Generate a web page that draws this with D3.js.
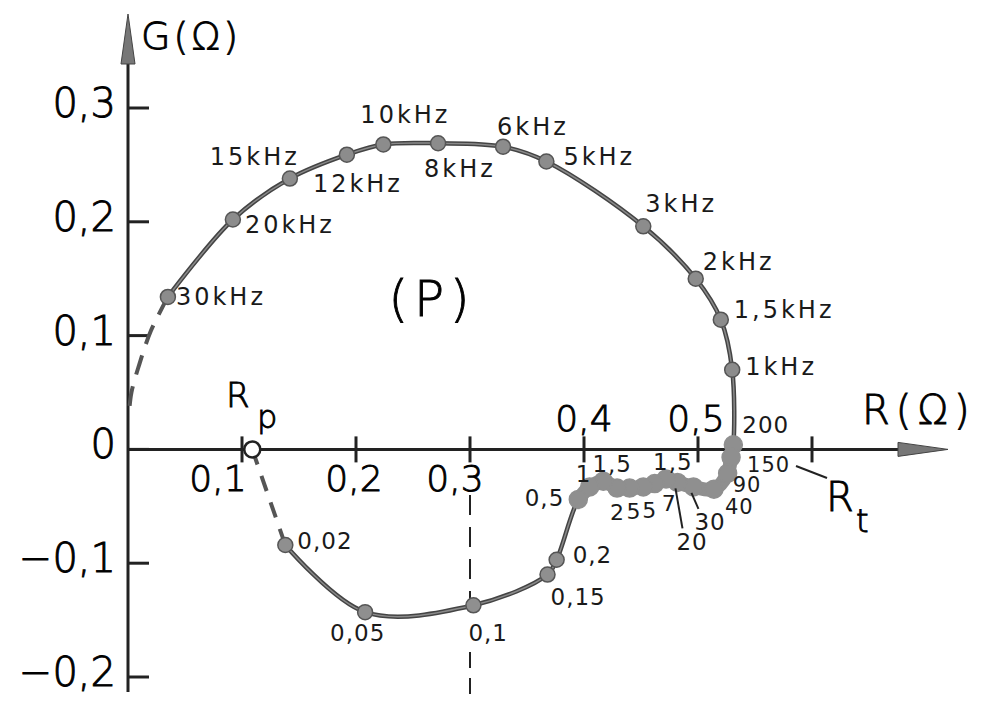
<!DOCTYPE html>
<html>
<head>
<meta charset="utf-8">
<script src="https://cdn.jsdelivr.net/npm/d3@7"></script>
<style>
  body { margin: 0; background: #fff; }
  text { font-family: "DejaVu Sans", sans-serif; fill: #1a1a1a; }
  .big { font-weight: 200; fill: #000; stroke: #000; stroke-width: 0.9px; }
</style>
</head>
<body>
<svg id="chart" width="991" height="710"></svg>
<script>
// high frequency branch (upper loop), kHz
var upperFreq = ["30kHz", "20kHz", "15kHz", "12kHz", "10kHz", "8kHz", "6kHz", "5kHz", "3kHz", "2kHz", "1,5kHz", "1kHz"];
var upperR = [0.035, 0.092, 0.142, 0.192, 0.224, 0.272, 0.329, 0.367, 0.452, 0.498, 0.520, 0.530];
var upperG = [0.134, 0.202, 0.238, 0.259, 0.268, 0.269, 0.266, 0.253, 0.196, 0.150, 0.114, 0.070];

// low frequency branch (lower loop), Hz
var lowerFreq = ["200", "150", "90", "40", "30", "20", "1,5", "7", "5", "5", "2", "1,5", "1", "0,5", "0,2", "0,15", "0,1", "0,05", "0,02"];
var lowerR = [0.531, 0.529, 0.526, 0.514, 0.496, 0.482, 0.472, 0.462, 0.452, 0.440, 0.429, 0.417, 0.405, 0.395, 0.376, 0.368, 0.303, 0.208, 0.138];
var lowerG = [0.004, -0.007, -0.021, -0.035, -0.033, -0.029, -0.026, -0.030, -0.033, -0.034, -0.034, -0.028, -0.033, -0.044, -0.097, -0.110, -0.137, -0.143, -0.084];

// extrapolated dashed parts
var hfR = [0.035, 0.020, 0.010, 0.003, 0.001];
var hfG = [0.134, 0.104, 0.075, 0.050, 0.033];
var Rp = 0.109;

var xTicks = [0.1, 0.2, 0.3, 0.4, 0.5, 0.6];
var xTickLabels = ["0,1", "0,2", "0,3", "0,4", "0,5", ""];
var yTicks = [0.3, 0.2, 0.1, 0, -0.1, -0.2];
var yTickLabels = ["0,3", "0,2", "0,1", "0", "\u22120,1", "\u22120,2"];

var svg = d3.select("#chart");
var x = d3.scaleLinear().domain([0, 0.7]).range([128, 926]);
var y = d3.scaleLinear().domain([-0.2, 0.3]).range([677, 108]);

// label placement (offset from the point, anchor, size)
var upperOff = [[8,0,"start"],[12,5,"start"],[10,-22,"end"],[-34,29,"start"],[-23,-29,"start"],[-14,26,"start"],
  [-6,-20,"start"],[17,-4,"start"],[2,-22,"start"],[7,-17,"start"],[13,-10,"start"],[13,-3,"start"]];
var lowerOff = [[9,-20,"start",23],[16,7,"start",21],[5,11,"start",21],[11,17,"start",21],[1,35,"start",23],[-1,60,"start",23],
  [-13,-17,"start",23],[7,19,"start",22],[-1,23,"start",22],[-3,23,"start",22],[-7,24,"start",22],[-11,-17,"start",23],
  [-14,-13,"start",23],[-14,-1,"end",23],[16,-5,"start",23],[3,22,"start",23],[-5,28,"start",23],[-35,21,"start",23],[12,-4,"start",23]];

// axes
svg.append("line").attr("x1", x(0)).attr("x2", 905).attr("y1", y(0)).attr("y2", y(0))
  .attr("stroke", "#222").attr("stroke-width", 3);
svg.append("path").attr("d", "M898," + (y(0)-7) + "L948," + y(0) + "L898," + (y(0)+7) + "Z")
  .attr("fill", "#777").attr("stroke", "#444").attr("stroke-width", 1);
svg.append("line").attr("x1", x(0)).attr("x2", x(0)).attr("y1", 692).attr("y2", 55)
  .attr("stroke", "#222").attr("stroke-width", 3);
svg.append("path").attr("d", "M" + (x(0)-7) + ",64L" + x(0) + ",14L" + (x(0)+7) + ",64Z")
  .attr("fill", "#777").attr("stroke", "#444").attr("stroke-width", 1);

svg.selectAll(".xt").data(xTicks).enter().append("line")
  .attr("x1", d => x(d)).attr("x2", d => x(d)).attr("y1", y(0) - 13).attr("y2", y(0) + 13)
  .attr("stroke", "#222").attr("stroke-width", 3);
var xLabDx = [-24, -2, -15, 0, -2, 0];
svg.selectAll(".xl").data(xTicks).enter().append("text").attr("class", "big")
  .attr("x", (d, i) => x(d) + xLabDx[i])
  .attr("y", d => d >= 0.35 ? y(0) - 18 : y(0) + 42)
  .attr("text-anchor", "middle").attr("font-size", 36)
  .text((d, i) => xTickLabels[i]);

svg.selectAll(".yt").data(yTicks).enter().append("line")
  .attr("x1", x(0)).attr("x2", x(0) + 21).attr("y1", d => y(d)).attr("y2", d => y(d))
  .attr("stroke", "#222").attr("stroke-width", 3);
svg.selectAll(".yl").data(yTicks).enter().append("text").attr("class", "big")
  .attr("x", 116).attr("y", d => y(d) + 9)
  .attr("text-anchor", "end").attr("font-size", 40)
  .text((d, i) => yTickLabels[i]);

svg.append("text").attr("class", "big").attr("x", 141).attr("y", 49).attr("font-size", 38).attr("letter-spacing", 3).text("G(\u03A9)");
svg.append("text").attr("class", "big").attr("x", 862).attr("y", 424).attr("font-size", 40).attr("letter-spacing", 6).text("R(\u03A9)");
svg.append("text").attr("class", "big").attr("x", 226).attr("y", 407).attr("font-size", 34).text("R");
svg.append("text").attr("class", "big").attr("x", 257).attr("y", 428).attr("font-size", 32).text("p");
svg.append("text").attr("class", "big").attr("x", 826).attr("y", 511).attr("font-size", 40).text("R");
svg.append("text").attr("class", "big").attr("x", 856).attr("y", 532).attr("font-size", 32).text("t");
svg.append("text").attr("class", "big").attr("x", 432).attr("y", 316).attr("text-anchor", "middle")
  .attr("font-size", 50).attr("letter-spacing", 6).text("(P)");
svg.append("line").attr("x1", 796).attr("y1", 466).attr("x2", 827).attr("y2", 478)
  .attr("stroke", "#222").attr("stroke-width", 2);

// dashed guide at R = 0.3
svg.append("line").attr("x1", x(0.3)).attr("x2", x(0.3)).attr("y1", y(-0.04)).attr("y2", y(-0.132))
  .attr("stroke", "#222").attr("stroke-width", 2).attr("stroke-dasharray", "20,12");
svg.append("line").attr("x1", x(0.3)).attr("x2", x(0.3)).attr("y1", y(-0.178)).attr("y2", y(-0.222))
  .attr("stroke", "#222").attr("stroke-width", 2).attr("stroke-dasharray", "16,10");

// curves
var upperPts = upperR.map((r, i) => [x(r), y(upperG[i])]);
var lowerPts = lowerR.map((r, i) => [x(r), y(lowerG[i])]);
var allPts = upperPts.concat(lowerPts);
var line = d3.line().curve(d3.curveCatmullRom.alpha(0.5));

svg.append("path").attr("d", line(hfR.map((r, i) => [x(r), y(hfG[i])])))
  .attr("fill", "none").attr("stroke", "#555").attr("stroke-width", 4).attr("stroke-dasharray", "20,12");
svg.append("path").attr("d", d3.line()([[x(Rp), y(0)], lowerPts[lowerPts.length - 1]]))
  .attr("fill", "none").attr("stroke", "#555").attr("stroke-width", 4).attr("stroke-dasharray", "16,12");

svg.append("path").attr("d", line(allPts))
  .attr("fill", "none").attr("stroke", "#444").attr("stroke-width", 4.5);
svg.append("path").attr("d", line(allPts))
  .attr("fill", "none").attr("stroke", "#8a8a8a").attr("stroke-width", 1.5);

// thick band of overlapping points 200 Hz .. 0,5 Hz
svg.append("path").attr("d", line(lowerPts.slice(0, 14)))
  .attr("fill", "none").attr("stroke", "#8f8f8f").attr("stroke-width", 14).attr("stroke-linecap", "round");

svg.selectAll(".ud").data(upperPts).enter().append("circle")
  .attr("cx", d => d[0]).attr("cy", d => d[1]).attr("r", 7.5)
  .attr("fill", "#8c8c8c").attr("stroke", "#555").attr("stroke-width", 1.5);
svg.selectAll(".ld").data(lowerPts).enter().append("circle")
  .attr("cx", d => d[0]).attr("cy", d => d[1]).attr("r", (d, i) => i < 14 ? 9 : 7.5)
  .attr("fill", "#8f8f8f").attr("stroke", (d, i) => i < 14 ? "#8f8f8f" : "#555").attr("stroke-width", 1.5);

svg.append("circle").attr("cx", x(Rp)).attr("cy", y(0)).attr("r", 8)
  .attr("fill", "#fff").attr("stroke", "#222").attr("stroke-width", 2.5);

// point labels
svg.selectAll(".ul").data(upperFreq).enter().append("text")
  .attr("x", (d, i) => upperPts[i][0] + upperOff[i][0])
  .attr("y", (d, i) => upperPts[i][1] + upperOff[i][1] + 8)
  .attr("text-anchor", (d, i) => upperOff[i][2])
  .attr("font-size", 24).attr("letter-spacing", 3).text(d => d);
svg.selectAll(".ll").data(lowerFreq).enter().append("text")
  .attr("x", (d, i) => lowerPts[i][0] + lowerOff[i][0])
  .attr("y", (d, i) => lowerPts[i][1] + lowerOff[i][1] + 8)
  .attr("text-anchor", (d, i) => lowerOff[i][2])
  .attr("font-size", (d, i) => lowerOff[i][3]).attr("letter-spacing", 1).text(d => d);

// leaders for 30 and 20
[[4, 22], [5, 46]].forEach(function(p) {
  var pt = lowerPts[p[0]];
  svg.append("line").attr("x1", pt[0] - 2).attr("y1", pt[1] + 6)
    .attr("x2", pt[0] + 5).attr("y2", pt[1] + p[1])
    .attr("stroke", "#222").attr("stroke-width", 2);
});
</script>
</body>
</html>
